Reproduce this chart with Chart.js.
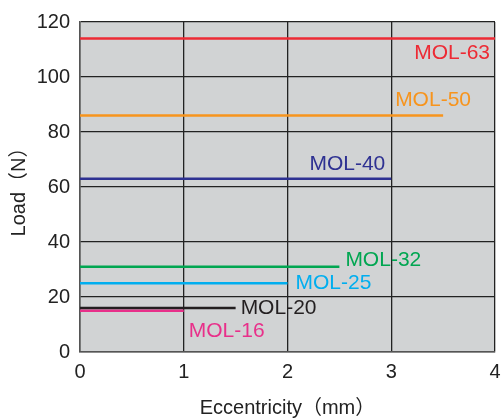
<!DOCTYPE html>
<html>
<head>
<meta charset="utf-8">
<script src="https://cdn.jsdelivr.net/npm/chart.js@4/dist/chart.umd.min.js"></script>
<style>
  html, body { margin: 0; padding: 0; background: #fff; }
  #wrap { width: 501px; height: 420px; }
</style>
</head>
<body>
<div id="wrap"><canvas id="load"></canvas></div>
<script>
// values
var models = ["MOL-63", "MOL-50", "MOL-40", "MOL-32", "MOL-25", "MOL-20", "MOL-16"];
var loads = [114, 86, 63, 31, 25, 16, 15];
var maxEcc = [4, 3.5, 3, 2.5, 2, 1.5, 1];
var xTicks = [0, 1, 2, 3, 4];
var yTicks = [0, 20, 40, 60, 80, 100, 120];

var colors = ["#ed2a34", "#f7941d", "#2e3192", "#00a651", "#00aeef", "#231f20", "#e8308a"];
// label placement relative to line end: [dx, dy, align]
var labelPos = [
    [-5, 15, "right"],
    [-48, -15, "left"],
    [-6, -15, "right"],
    [6, -7, "left"],
    [8, 0, "left"],
    [5, 0, "left"],
    [5, 20, "left"]
];

var fontFamily = "'Liberation Sans', 'Noto Sans CJK JP', sans-serif";

var datasets = models.map(function(name, i) {
    return {
        label: name,
        data: [{x: 0, y: loads[i]}, {x: maxEcc[i], y: loads[i]}],
        borderColor: colors[i],
        backgroundColor: colors[i],
        borderWidth: 2.5,
        pointRadius: 0,
        fill: false
    };
});

var plotBg = {
    id: "plotBg",
    beforeDraw: function(chart) {
        var a = chart.chartArea, c = chart.ctx;
        c.save();
        c.fillStyle = "#d1d3d4";
        c.fillRect(a.left, a.top, a.right - a.left, a.bottom - a.top);
        c.restore();
    }
};

var lineLabels = {
    id: "lineLabels",
    afterDatasetsDraw: function(chart) {
        var c = chart.ctx, xs = chart.scales.x, ys = chart.scales.y;
        c.save();
        c.font = "21px " + fontFamily;
        c.textBaseline = "middle";
        models.forEach(function(name, i) {
            var p = labelPos[i];
            var px = xs.getPixelForValue(maxEcc[i]) + p[0];
            var py = ys.getPixelForValue(loads[i]) + p[1];
            c.fillStyle = colors[i];
            c.textAlign = p[2];
            c.fillText(name, px, py);
        });
        c.restore();
    }
};

new Chart(document.getElementById("load").getContext("2d"), {
    type: "line",
    data: { datasets: datasets },
    plugins: [plotBg, lineLabels],
    options: {
        responsive: true,
        maintainAspectRatio: false,
        animation: false,
        layout: { padding: { left: 0, right: 0, top: 9, bottom: 0 } },
        plugins: {
            legend: { display: false },
            tooltip: { enabled: false }
        },
        scales: {
            x: {
                type: "linear",
                min: 0,
                max: 4,
                afterBuildTicks: function(s) { s.ticks = xTicks.map(function(v) { return {value: v}; }); },
                afterFit: function(s) { s.height = 68; s.paddingRight = 6; },
                grid: { color: "#222", lineWidth: 1.3, drawTicks: false },
                border: { color: "#555", width: 1.5 },
                ticks: { color: "#222", padding: 8, font: { size: 20, family: fontFamily } },
                title: { display: true, text: "Eccentricity（mm）", color: "#222", padding: { top: 0, bottom: 0 }, font: { size: 20, family: fontFamily } }
            },
            y: {
                min: 0,
                max: 120,
                afterBuildTicks: function(s) { s.ticks = yTicks.map(function(v) { return {value: v}; }); },
                afterFit: function(s) { s.width = 80; },
                grid: { color: "#222", lineWidth: 1.3, drawTicks: false },
                border: { color: "#555", width: 1.5 },
                ticks: { color: "#222", padding: 10, font: { size: 20, family: fontFamily } },
                title: { display: true, text: "Load（N）", color: "#222", padding: { top: 7, bottom: 0 }, font: { size: 20, family: fontFamily } }
            }
        }
    }
});
</script>
</body>
</html>
